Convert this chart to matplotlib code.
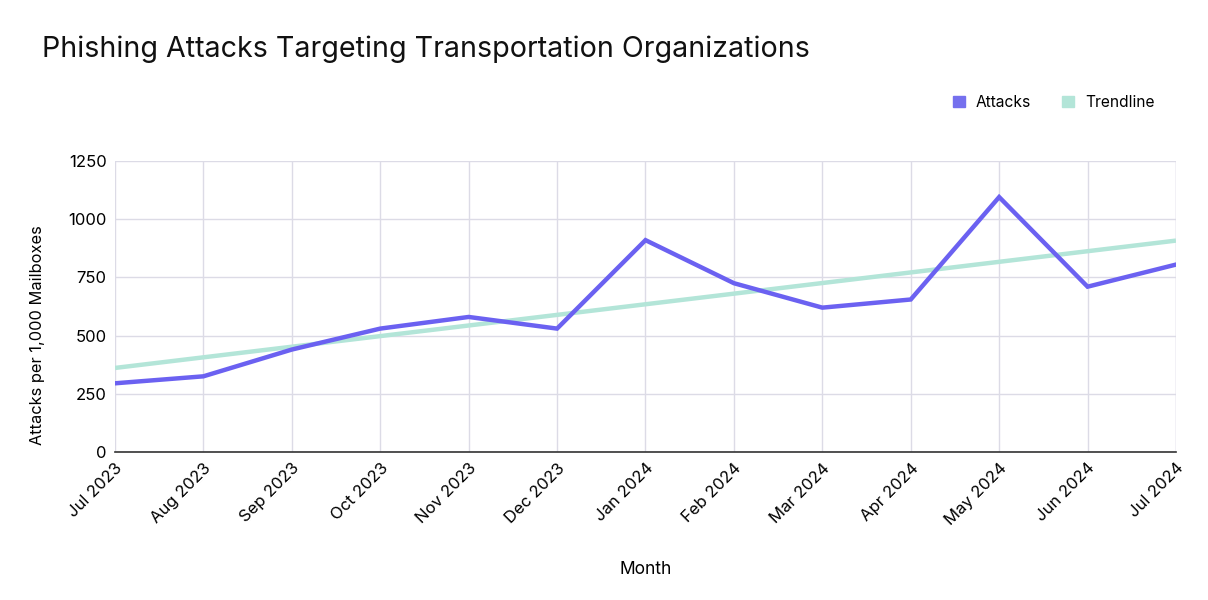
import matplotlib
matplotlib.use("Agg")
import matplotlib.pyplot as plt
from matplotlib.patches import Patch

# chart data
months = ["Jul 2023", "Aug 2023", "Sep 2023", "Oct 2023", "Nov 2023", "Dec 2023",
          "Jan 2024", "Feb 2024", "Mar 2024", "Apr 2024", "May 2024", "Jun 2024", "Jul 2024"]
attacks = [295, 325, 440, 530, 580, 530, 910, 725, 620, 655, 1095, 710, 805]
# trendline end values (first and last month)
trend_ends = [361, 908]

attack_color = "#6b61f1"
trend_color = "#b3e5d8"
grid_color = "#dcdbe6"

plt.rcParams["font.family"] = ["Inter", "DejaVu Sans"]

fig = plt.figure(figsize=(12.08, 6), dpi=100)
ax = fig.add_axes([0.0952, 0.2467, 0.8783, 0.485])

x = list(range(len(months)))
ax.plot([x[0], x[-1]], trend_ends, color=trend_color, lw=3.2, solid_capstyle="butt", zorder=2)
ax.plot(x, attacks, color=attack_color, lw=3.2, solid_joinstyle="miter", zorder=3)

ax.set_xlim(0, len(months) - 1)
ax.set_ylim(0, 1250)
ax.set_yticks([0, 250, 500, 750, 1000, 1250])
ax.set_xticks(x)
ax.set_xticklabels(months, rotation=45, ha="right", rotation_mode="anchor", fontsize=12)
ax.tick_params(axis="y", labelsize=12, length=0, pad=6)
ax.tick_params(axis="x", length=0, pad=6)

ax.grid(True, color=grid_color, lw=1)
ax.set_axisbelow(True)
for s in ["top", "right", "left"]:
    ax.spines[s].set_visible(False)
ax.spines["bottom"].set_color("#333333")
ax.spines["bottom"].set_linewidth(1.2)
ax.spines["bottom"].set_zorder(4)
# right border as a grid line
ax.axvline(len(months) - 1, color=grid_color, lw=1, zorder=1)

ax.set_ylabel("Attacks per 1,000 Mailboxes", fontsize=11.8)
ax.yaxis.set_label_coords(-0.066, 0.40)
ax.set_xlabel("Month", fontsize=12.5, labelpad=24)

fig.text(0.035, 0.918, "Phishing Attacks Targeting Transportation Organizations",
         fontsize=20.6, va="center", ha="left", color="#111111")

handles = [Patch(color="#7570ee", label="Attacks"), Patch(color=trend_color, label="Trendline")]
fig.legend(handles=handles, loc="center right", bbox_to_anchor=(0.962, 0.829), ncol=2,
           frameon=False, fontsize=11.2, handlelength=0.75, handleheight=0.75,
           handletextpad=0.7, columnspacing=2.0, borderpad=0)

fig.savefig("out.png", dpi=100)
